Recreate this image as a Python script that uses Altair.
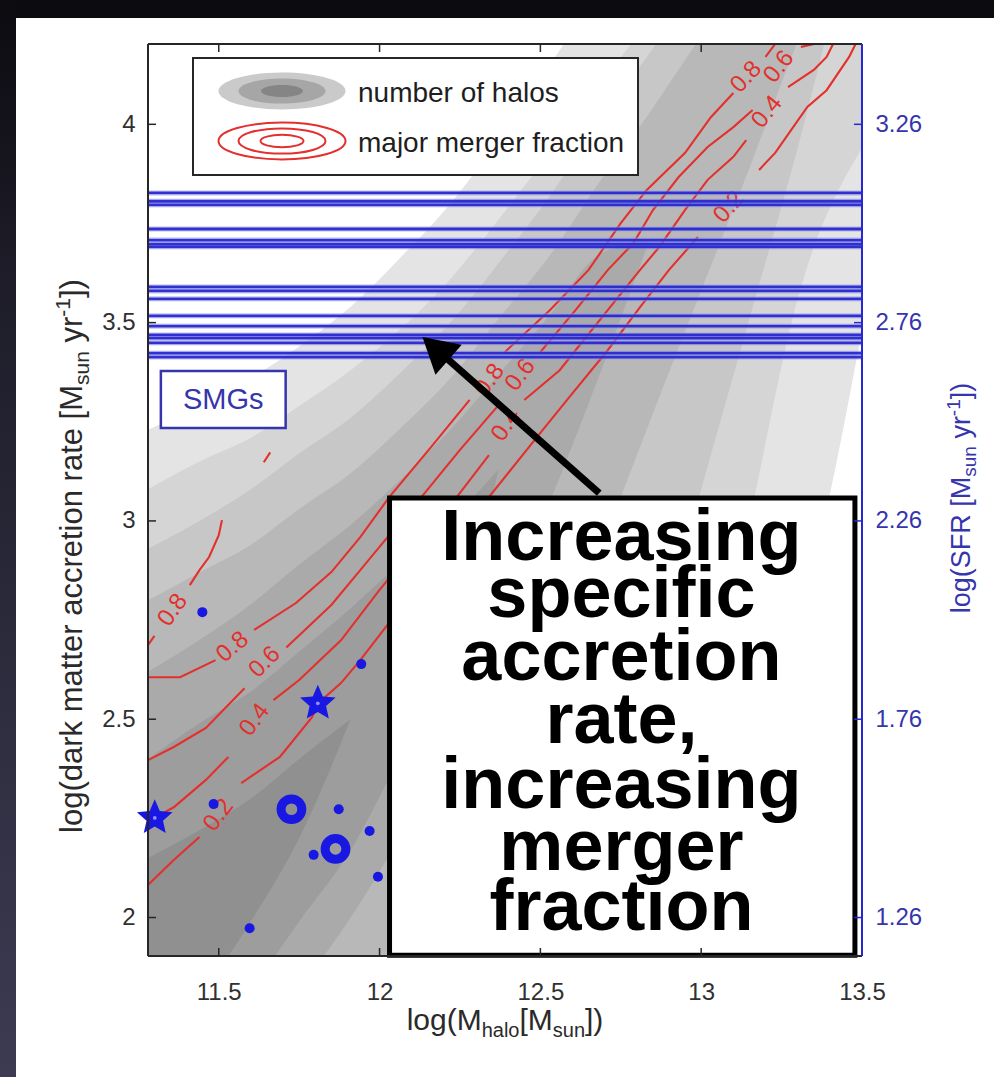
import altair as alt
import pandas as pd

# ------------------------------------------------------------------ data
X_TICKS = [11.5, 12.0, 12.5, 13.0, 13.5]
Y_TICKS = [2.0, 2.5, 3.0, 3.5, 4.0]
SFR_TICKS = [1.26, 1.76, 2.26, 2.76, 3.26]

# SMG accretion-rate levels (horizontal blue lines)
SMG_LEVELS = [3.827, 3.806, 3.797, 3.736, 3.708, 3.698, 3.691, 3.590, 3.580,
              3.560, 3.517, 3.491, 3.469, 3.461, 3.449, 3.423, 3.413]

# blue symbols
DOT_X = [11.449, 11.943, 11.484, 11.873, 11.969, 11.795, 11.995, 11.596]
DOT_Y = [2.770, 2.639, 2.286, 2.273, 2.218, 2.158, 2.103, 1.973]
RING_X = [11.726, 11.863]
RING_Y = [2.273, 2.173]
STAR_X = [11.301, 11.808]
STAR_Y = [2.251, 2.540]

# number-of-halos filled contours (band edges at sampled masses)
BAND_X = [11.28, 11.44, 11.60, 11.75, 11.91, 12.06, 12.22, 12.37, 12.53,
          12.68, 12.84, 12.99, 13.15, 13.30, 13.50]
HALO1_HI = [3.23, 3.29, 3.36, 3.44, 3.54, 3.66, 3.80, 3.96, 4.15, 4.34, 4.6, 4.6, 4.6, 4.6, 4.6]
HALO1_LO = [1.5] * 11 + [1.79, 2.55, 2.75, 3.48]
HALO2_HI = [3.08, 3.15, 3.21, 3.29, 3.38, 3.48, 3.61, 3.76, 3.93, 4.10, 4.28, 4.6, 4.6, 4.6, 4.6]
HALO2_LO = [1.5] * 10 + [1.79, 2.40, 3.00, 3.56, 3.94]
HALO3_HI = [2.93, 3.00, 3.08, 3.17, 3.26, 3.37, 3.50, 3.65, 3.82, 4.00, 4.18, 4.36, 4.6, 4.6, 4.6]
HALO3_LO = [1.5] * 8 + [1.79, 2.17, 2.60, 3.05, 3.51, 3.94, 4.6]
HALO4_HI = [2.80, 2.87, 2.94, 3.03, 3.12, 3.23, 3.36, 3.51, 3.67, 3.85, 4.03, 4.21, 4.39, 4.6, 4.6]
HALO4_LO = [1.5] * 6 + [1.79, 2.09, 2.50, 2.90, 3.25, 3.56, 3.89, 4.21, 4.6]
HALO5_HI = [2.62, 2.70, 2.79, 2.89, 2.99, 3.10, 3.23, 3.37, 3.52, 3.67, 3.71]
HALO5_LO = [1.54, 1.54, 1.67, 1.82, 2.00, 2.20, 2.45, 2.75, 3.05, 3.36, 3.71]
HALO6_HI = [2.40, 2.49, 2.57, 2.67, 2.78, 2.89, 3.00, 3.13]
HALO6_LO = [1.54, 1.67, 1.82, 1.99, 2.17, 2.40, 2.65, 3.13]
HALO7_HI = [2.15, 2.22, 2.30, 2.40, 2.50]
HALO7_LO = [1.54, 1.79, 1.99, 2.20, 2.50]

# major merger fraction contours (segments split where labels sit)
C08I_X = [11.28, 11.30, 11.41, 11.44, 11.47, 11.50, 11.51, 11.64, 11.66]
C08I_Y = [2.687, 2.710, 2.838, 2.876, 2.909, 2.964, 3.002, 3.148, 3.173]
C08I_S = [0, 0, 1, 1, 1, 1, 1, 2, 2]
C08_X = [11.28, 11.38, 11.49, 11.61, 11.74, 11.85, 11.94, 12.03, 12.16, 12.28,
         12.39, 12.53, 12.65, 12.75, 12.83, 12.95, 13.03, 13.10, 13.20, 13.23, 13.26]
C08_Y = [2.606, 2.606, 2.649, 2.725, 2.793, 2.871, 2.959, 3.060, 3.186, 3.305,
         3.426, 3.532, 3.633, 3.751, 3.834, 3.928, 4.018, 4.079, 4.170, 4.2025, 4.24]
C08_S = [0] * 3 + [1] * 7 + [2] * 8 + [3] * 3
C06_X = [11.28, 11.36, 11.46, 11.58, 11.71, 11.85, 11.94, 12.03, 12.13, 12.25, 12.37,
         12.50, 12.61, 12.71, 12.79, 12.85, 12.93, 13.02, 13.10, 13.16, 13.31, 13.35, 13.38]
C06_Y = [2.397, 2.430, 2.478, 2.578, 2.681, 2.788, 2.876, 2.964, 3.060, 3.179, 3.292,
         3.426, 3.532, 3.633, 3.701, 3.784, 3.867, 3.943, 3.993, 4.036, 4.195, 4.2025, 4.24]
C06_S = [0] * 4 + [1] * 7 + [2] * 9 + [3] * 3
C04_X = [11.28, 11.30, 11.36, 11.46, 11.53, 11.67, 11.75, 11.88, 12.00, 12.12, 12.24, 12.34,
         12.45, 12.56, 12.61, 12.71, 12.81, 12.87, 12.95, 13.02, 13.10, 13.14,
         13.27, 13.35, 13.39, 13.41, 13.43]
C04_Y = [2.221, 2.251, 2.278, 2.347, 2.405, 2.548, 2.599, 2.699, 2.826, 2.944, 3.060, 3.166,
         3.305, 3.380, 3.431, 3.532, 3.633, 3.691, 3.784, 3.860, 3.918, 3.960,
         4.094, 4.137, 4.170, 4.2025, 4.24]
C04_S = [0] * 5 + [1] * 7 + [2] * 10 + [3] * 5
C02_X = [11.28, 11.36, 11.44, 11.57, 11.69, 11.79, 11.81, 11.88, 11.94, 12.06, 12.22, 12.34,
         12.50, 12.59, 12.71, 12.81, 12.90, 12.99, 13.18, 13.23, 13.28, 13.33, 13.39, 13.46,
         13.48, 13.50]
C02_Y = [2.082, 2.145, 2.203, 2.339, 2.405, 2.505, 2.541, 2.591, 2.649, 2.775, 2.931, 3.060,
         3.222, 3.312, 3.431, 3.539, 3.633, 3.716, 3.885, 3.928, 3.986, 4.044, 4.086, 4.170,
         4.2025, 4.24]
C02_S = [0] * 3 + [1] * 15 + [2] * 8

CL_TEXT = ["0.8", "0.8", "0.6", "0.4", "0.2", "0.8", "0.6", "0.4", "0.8", "0.6", "0.4", "0.2"]
CL_X = [11.357, 11.543, 11.643, 11.612, 11.500, 12.342, 12.438, 12.394, 13.140, 13.242, 13.205, 13.087]
CL_Y = [2.775, 2.682, 2.644, 2.498, 2.258, 3.355, 3.368, 3.242, 4.119, 4.145, 4.031, 3.791]
CL_ANGLE = [305, 320, 315, 307, 307, 306, 307, 303, 313, 308, 309, 312]

BOX_LINES = ["Increasing", "specific", "accretion", "rate,", "increasing", "merger", "fraction"]
BOX_LINE_Y = [2.901, 2.758, 2.599, 2.440, 2.276, 2.120, 1.969]

# ------------------------------------------------------------------ layout / style
XMIN, XMAX = 11.28, 13.5
YMIN, YMAX = 1.903, 4.2025
SFR_OFFSET = 0.74
W, H = 714, 912
PAD = {"left": 148, "top": 44, "right": 132, "bottom": 121}
FONT = "Liberation Sans"
RED = "#e3302c"
BLUE = "#1818e2"
BLUE_LINE = "#2828d0"
AXIS_BLUE = "#3535ad"
FRAME = "#262626"
GRAYS = ["#e4e4e4", "#d5d5d5", "#c7c7c7", "#b8b8b8", "#aaaaaa", "#9d9d9d", "#909090"]
STAR_PATH = ("M0,-1L0.27,-0.37L0.951,-0.309L0.44,0.143L0.588,0.809L0,0.46L-0.588,0.809"
             "L-0.44,0.143L-0.951,-0.309L-0.27,-0.37Z")
ELLIPSE = "M-1,0A1,0.29,0,1,1,1,0A1,0.29,0,1,1,-1,0Z"

ARIAL = {'l': 222, 'o': 556, 'g': 556, '(': 333, ')': 333, 'd': 556, 'a': 556, 'r': 333,
         'k': 500, ' ': 278, 'm': 833, 't': 278, 'e': 556, 'c': 500, 'i': 222, 'n': 556,
         '[': 278, ']': 278, 'M': 833, 's': 500, 'u': 556, 'y': 500, '-': 333, '1': 556,
         'S': 667, 'F': 611, 'R': 722, 'h': 556}


def tw(s, fs):
    return sum(ARIAL.get(c, 556) for c in s) * fs / 1000.0


xscale = alt.Scale(domain=[XMIN, XMAX], nice=False, zero=False)
yscale = alt.Scale(domain=[YMIN, YMAX], nice=False, zero=False)
xaxis = alt.Axis(values=X_TICKS, format="~g", title=None, ticks=False, tickSize=0, domain=False,
                 grid=False, labelFontSize=24, labelColor="#303030", labelFont=FONT,
                 labelPadding=24, labelFlush=False, labelOverlap=False)
yaxis = alt.Axis(values=Y_TICKS, format="~g", title=None, ticks=False, tickSize=0, domain=False,
                 grid=False, labelFontSize=24, labelColor="#303030", labelFont=FONT,
                 labelPadding=13, labelOverlap=False)


def X(f):
    return alt.X(f, type="quantitative", scale=xscale, axis=xaxis)


def Y(f):
    return alt.Y(f, type="quantitative", scale=yscale, axis=yaxis)


ONE = pd.DataFrame({"k": [0]})


def txt(text, x, y, size, color, angle=0, align="left", baseline="alphabetic", weight="normal"):
    return alt.Chart(ONE).mark_text(text=text, fontSize=size, color=color, angle=angle, align=align,
                                    baseline=baseline, font=FONT, fontWeight=weight
                                    ).encode(x=alt.value(x), y=alt.value(y))


def composed(pieces, anchor, base, rotated, color):
    total = sum(tw(t, fs) for t, fs, _ in pieces)
    out, cum = [], 0.0
    for t, fs, off in pieces:
        if t.strip():
            if rotated:
                out.append(txt(t, base + off, anchor + total / 2 - cum, fs, color, angle=270))
            else:
                out.append(txt(t, anchor - total / 2 + cum, base + off, fs, color))
        cum += tw(t, fs)
    return out


layers = []

# dark slide border
layers.append(alt.Chart(ONE).mark_rect(color="#0c0b10").encode(
    x=alt.value(-PAD["left"]), x2=alt.value(W + PAD["right"]),
    y=alt.value(-PAD["top"]), y2=alt.value(-PAD["top"] + 18)))
layers.append(alt.Chart(ONE).mark_rect(color=alt.Gradient(
    gradient="linear", x1=0, x2=0, y1=0, y2=1,
    stops=[alt.GradientStop(color="#0c0b10", offset=0), alt.GradientStop(color="#1d1c28", offset=0.25),
           alt.GradientStop(color="#3d3b52", offset=1)])).encode(
    x=alt.value(-PAD["left"]), x2=alt.value(-PAD["left"] + 16),
    y=alt.value(-PAD["top"]), y2=alt.value(H + PAD["bottom"])))

# halo-number bands
bands = [(HALO1_LO, HALO1_HI), (HALO2_LO, HALO2_HI), (HALO3_LO, HALO3_HI), (HALO4_LO, HALO4_HI),
         (HALO5_LO, HALO5_HI), (HALO6_LO, HALO6_HI), (HALO7_LO, HALO7_HI)]
for (lo, hi), g in zip(bands, GRAYS):
    d = pd.DataFrame({"x": BAND_X[:len(lo)], "lo": lo, "hi": hi})
    layers.append(alt.Chart(d).mark_area(color=g, clip=True, interpolate="monotone").encode(
        x=X("x"), y=Y("lo"), y2="hi"))

# merger fraction contours
rows = []
for name, xs, ys, ss in [("i", C08I_X, C08I_Y, C08I_S), ("8", C08_X, C08_Y, C08_S),
                         ("6", C06_X, C06_Y, C06_S), ("4", C04_X, C04_Y, C04_S),
                         ("2", C02_X, C02_Y, C02_S)]:
    for i, (a, b, s) in enumerate(zip(xs, ys, ss)):
        rows.append({"x": a, "y": b, "seg": f"{name}{s}", "i": i})
dcont = pd.DataFrame(rows)
layers.append(alt.Chart(dcont).mark_line(color=RED, strokeWidth=2.1, clip=True).encode(
    x=X("x"), y=Y("y"), detail="seg:N", order="i:Q"))
dlab = pd.DataFrame({"x": CL_X, "y": CL_Y, "t": CL_TEXT, "a": CL_ANGLE})
layers.append(alt.Chart(dlab).mark_text(color=RED, fontSize=24, font=FONT, align="center",
                                        baseline="middle").encode(
    x=X("x"), y=Y("y"), text="t:N", angle=alt.Angle("a:Q", scale=None)))

# partly hidden blue label
d25 = pd.DataFrame({"x": [12.994], "y": [3.037], "t": ["2.5"]})
layers.append(alt.Chart(d25).mark_text(color=BLUE, fontSize=22, font=FONT, align="center").encode(
    x=X("x"), y=Y("y"), text="t:N"))

# SMG lines (soft halo + core)
dsmg = pd.DataFrame({"y": SMG_LEVELS})
layers.append(alt.Chart(dsmg).mark_rule(color="#9a9cf0", strokeWidth=5.5, opacity=0.45).encode(
    y=Y("y"), x=alt.value(0), x2=alt.value(W)))
layers.append(alt.Chart(dsmg).mark_rule(color=BLUE_LINE, strokeWidth=2.8, opacity=0.95).encode(
    y=Y("y"), x=alt.value(0), x2=alt.value(W)))

# blue symbols
layers.append(alt.Chart(pd.DataFrame({"x": DOT_X, "y": DOT_Y})).mark_circle(
    size=100, color=BLUE, opacity=1).encode(x=X("x"), y=Y("y")))
layers.append(alt.Chart(pd.DataFrame({"x": RING_X, "y": RING_Y})).mark_point(
    shape="circle", filled=False, size=430, strokeWidth=9, color=BLUE, opacity=1).encode(
    x=X("x"), y=Y("y")))
layers.append(alt.Chart(pd.DataFrame({"x": STAR_X, "y": STAR_Y})).mark_point(
    shape=STAR_PATH, filled=True, size=1400, color=BLUE, opacity=1).encode(x=X("x"), y=Y("y")))
layers.append(alt.Chart(pd.DataFrame({"x": STAR_X, "y": STAR_Y})).mark_circle(
    size=14, color="#9090ff", opacity=1).encode(x=X("x"), y=Y("y")))

# SMGs tag
dsm = pd.DataFrame({"x": [11.320], "x2": [11.708], "y": [3.234], "y2": [3.378]})
layers.append(alt.Chart(dsm).mark_rect(fill="white", stroke=AXIS_BLUE, strokeWidth=2.5).encode(
    x=X("x"), x2="x2", y=Y("y"), y2="y2"))
layers.append(alt.Chart(pd.DataFrame({"x": [11.514], "y": [3.306], "t": ["SMGs"]})).mark_text(
    color=AXIS_BLUE, fontSize=29, font=FONT, align="center", baseline="middle").encode(
    x=X("x"), y=Y("y"), text="t:N"))

# legend (pixel layout inside plot)
layers.append(alt.Chart(ONE).mark_rect(fill="white", stroke=FRAME, strokeWidth=2).encode(
    x=alt.value(45), x2=alt.value(490), y=alt.value(14), y2=alt.value(131)))
for w, c in [(127, "#cacaca"), (87, "#a6a6a6"), (42, "#858585")]:
    layers.append(alt.Chart(ONE).mark_point(shape=ELLIPSE, filled=True, fill=c, strokeWidth=0,
                                            size=w * w, opacity=1).encode(
        x=alt.value(134), y=alt.value(47)))
for w in [127, 87, 43]:
    layers.append(alt.Chart(ONE).mark_point(shape=ELLIPSE, filled=False, stroke=RED, strokeWidth=2,
                                            size=w * w, opacity=1).encode(
        x=alt.value(134), y=alt.value(97)))
layers.append(txt("number of halos", 210, 58, 28, "#1e1e1e"))
layers.append(txt("major merger fraction", 210, 108, 28, "#1e1e1e"))

# annotation box
dbox = pd.DataFrame({"x": [12.031], "x2": [13.478], "y": [1.905], "y2": [3.058]})
layers.append(alt.Chart(dbox).mark_rect(fill="white", stroke="black", strokeWidth=5).encode(
    x=X("x"), x2="x2", y=Y("y"), y2="y2"))
dlines = pd.DataFrame({"x": [12.752] * len(BOX_LINES), "y": BOX_LINE_Y, "t": BOX_LINES})
layers.append(alt.Chart(dlines).mark_text(color="black", fontSize=72, font=FONT, fontWeight="bold",
                                          align="center", baseline="alphabetic").encode(
    x=X("x"), y=Y("y"), text="t:N"))

# arrow
darr = pd.DataFrame({"x": [12.683], "y": [3.070], "x2": [12.174], "y2": [3.435]})
layers.append(alt.Chart(darr).mark_rule(color="black", strokeWidth=7).encode(
    x=X("x"), y=Y("y"), x2="x2", y2="y2"))
layers.append(alt.Chart(pd.DataFrame({"x": [12.174], "y": [3.435]})).mark_point(
    shape="triangle-up", filled=True, size=1600, color="black", opacity=1, angle=311).encode(
    x=X("x"), y=Y("y")))

# inner ticks and frame
dxt = pd.DataFrame({"v": X_TICKS[:-1]})
dyt = pd.DataFrame({"v": Y_TICKS})
layers.append(alt.Chart(dxt).mark_rule(color=FRAME, strokeWidth=1.5).encode(
    x=X("v"), y=alt.value(0), y2=alt.value(8)))
layers.append(alt.Chart(dxt).mark_rule(color=FRAME, strokeWidth=1.5).encode(
    x=X("v"), y=alt.value(H - 8), y2=alt.value(H)))
layers.append(alt.Chart(dyt).mark_rule(color=FRAME, strokeWidth=1.5).encode(
    y=Y("v"), x=alt.value(0), x2=alt.value(8)))
layers.append(alt.Chart(ONE).mark_rule(color=FRAME, strokeWidth=2).encode(
    x=alt.value(0), x2=alt.value(W), y=alt.value(0)))
layers.append(alt.Chart(ONE).mark_rule(color=FRAME, strokeWidth=2).encode(
    x=alt.value(0), x2=alt.value(W), y=alt.value(H)))
layers.append(alt.Chart(ONE).mark_rule(color=FRAME, strokeWidth=2).encode(
    x=alt.value(0), y=alt.value(0), y2=alt.value(H)))
layers.append(alt.Chart(ONE).mark_rule(color=BLUE_LINE, strokeWidth=2).encode(
    x=alt.value(W), y=alt.value(0), y2=alt.value(H)))

# axis titles with sub/superscripts
layers += composed([("log(dark matter accretion rate [M", 31, 0), ("sun", 21, 7), (" ", 31, 0),
                    ("yr", 31, 0), ("-1", 21, -12), ("])", 31, 0)],
                   anchor=512, base=-66, rotated=True, color="#2a2a2a")
layers += composed([("log(M", 30, 0), ("halo", 20, 7), ("[M", 30, 0), ("sun", 20, 7), ("])", 30, 0)],
                   anchor=357, base=986, rotated=False, color="#2a2a2a")
layers += composed([("log(SFR [M", 27, 0), ("sun", 19, 6), (" ", 27, 0), ("yr", 27, 0),
                    ("-1", 19, -10), ("])", 27, 0)],
                   anchor=454, base=822, rotated=True, color=AXIS_BLUE)

inner = alt.layer(*layers)

# right-hand SFR axis
sfr_scale = alt.Scale(domain=[YMIN - SFR_OFFSET, YMAX - SFR_OFFSET], nice=False, zero=False)
sfr_axis = alt.Axis(orient="right", values=SFR_TICKS, format=".2f", title=None, ticks=False,
                    tickSize=0, domain=False, grid=False, labelFontSize=24, labelColor=AXIS_BLUE,
                    labelFont=FONT, labelPadding=13, labelOverlap=False)
right = alt.Chart(pd.DataFrame({"v": SFR_TICKS})).mark_rule(color=BLUE_LINE, strokeWidth=1.5).encode(
    y=alt.Y("v:Q", scale=sfr_scale, axis=sfr_axis), x=alt.value(W - 8), x2=alt.value(W))

chart = alt.layer(inner, right).resolve_scale(y="independent").properties(
    width=W, height=H, autosize=alt.AutoSizeParams(type="none"), padding=PAD, background="white"
).configure_view(stroke=None)

chart.save("out.html", embed_options={"renderer": "svg", "actions": False})
